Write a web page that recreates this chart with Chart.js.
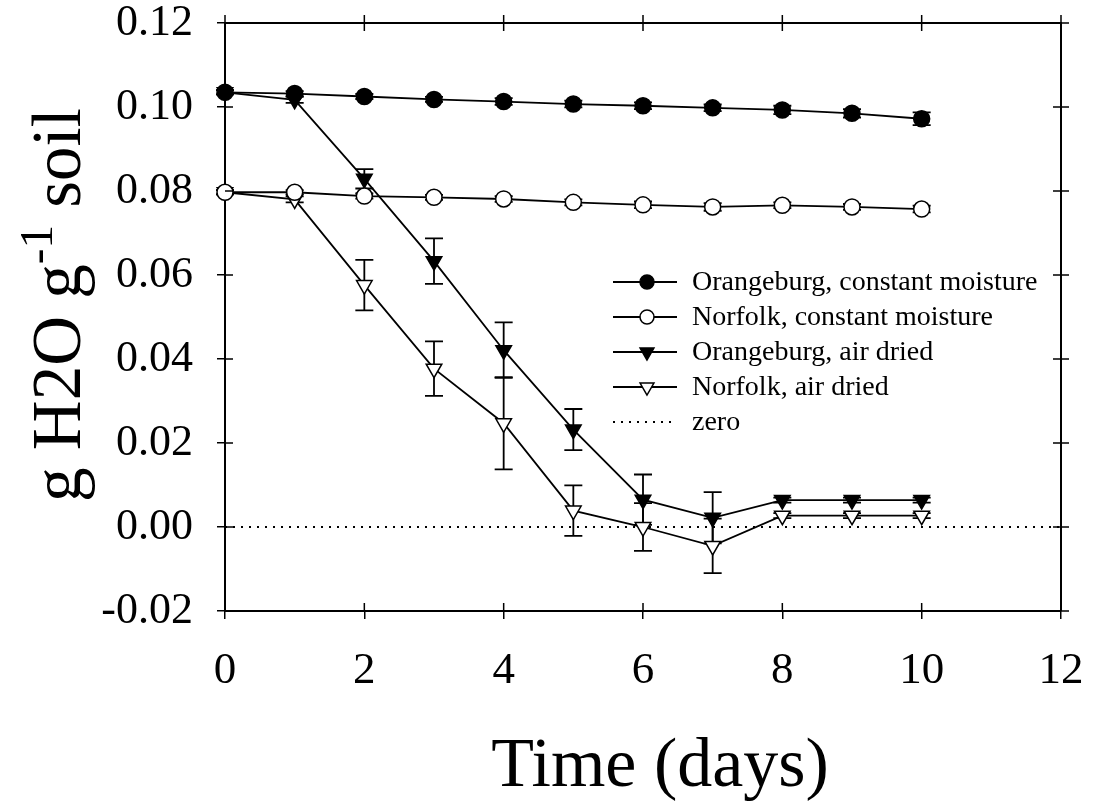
<!DOCTYPE html>
<html>
<head>
<meta charset="utf-8">
<script src="https://cdn.jsdelivr.net/npm/chart.js@4"></script>
<style>
  body { margin: 0; background: #fff; }
  #wrap { width: 1094px; height: 803px; }
</style>
</head>
<body>
<div id="wrap"><canvas id="soilChart" width="1094" height="803"></canvas></div>
<script>
// data
const days = [0, 1, 2, 3, 4, 5, 6, 7, 8, 9, 10];
const orangeConst = [0.1035, 0.1032, 0.1025, 0.1018, 0.1013, 0.1007, 0.1003, 0.0998, 0.0993, 0.0985, 0.0972];
const orangeConstErr = [0.0005, 0.0006, 0.0006, 0.0006, 0.0008, 0.0008, 0.0008, 0.0008, 0.0010, 0.0010, 0.0015];
const norfolkConst = [0.0797, 0.0797, 0.0788, 0.0785, 0.0781, 0.0773, 0.0767, 0.0762, 0.0766, 0.0762, 0.0757];
const norfolkConstErr = [0.0005, 0.0005, 0.0006, 0.0006, 0.0007, 0.0007, 0.0008, 0.0009, 0.0007, 0.0007, 0.0008];
const orangeAir = [0.1035, 0.1017, 0.0829, 0.0633, 0.0421, 0.0232, 0.0065, 0.0022, 0.0064, 0.0064, 0.0064];
const orangeAirErr = [0.0005, 0.0007, 0.0023, 0.0054, 0.0066, 0.0049, 0.0060, 0.0061, 0.0006, 0.0006, 0.0006];
const norfolkAir = [0.0797, 0.0780, 0.0576, 0.0377, 0.0247, 0.0039, 0.0000, -0.0045, 0.0027, 0.0027, 0.0027];
const norfolkAirErr = [0.0005, 0.0007, 0.0060, 0.0065, 0.0110, 0.0060, 0.0057, 0.0065, 0.0006, 0.0006, 0.0006];
const zeroX = [0, 12];
const zeroY = [0, 0];
const seriesNames = ['Orangeburg, constant moisture', 'Norfolk, constant moisture',
                     'Orangeburg, air dried', 'Norfolk, air dried', 'zero'];

const serif = "'Liberation Serif', 'Times New Roman', serif";

function pts(xs, ys) {
    return xs.map((x, i) => ({ x: x, y: ys[i] }));
}

function series(label, values, errs, style, fill) {
    return {
        label: label,
        data: pts(days, values),
        errors: errs,
        borderColor: '#000',
        borderWidth: 1.8,
        pointStyle: style,
        pointRotation: style === 'triangle' ? 180 : 0,
        pointRadius: style === 'triangle' ? 9 : 8,
        pointBackgroundColor: fill,
        pointBorderColor: '#000',
        pointBorderWidth: 1.5,
        tension: 0,
        clip: false
    };
}

// error bars, drawn under the markers
const errorBars = {
    id: 'errorBars',
    beforeDatasetsDraw(chart) {
        const { ctx, scales: { x, y } } = chart;
        ctx.save();
        ctx.strokeStyle = '#000';
        ctx.lineWidth = 1.8;
        chart.data.datasets.forEach(ds => {
            if (!ds.errors) return;
            ds.data.forEach((p, i) => {
                const e = ds.errors[i];
                const px = x.getPixelForValue(p.x);
                const top = y.getPixelForValue(p.y + e);
                const bot = y.getPixelForValue(p.y - e);
                ctx.beginPath();
                ctx.moveTo(px, top); ctx.lineTo(px, bot);
                ctx.moveTo(px - 9, top); ctx.lineTo(px + 9, top);
                ctx.moveTo(px - 9, bot); ctx.lineTo(px + 9, bot);
                ctx.stroke();
            });
        });
        ctx.restore();
    }
};

// box frame, ticks crossing every side, legend and axis titles
const frame = {
    id: 'frame',
    afterDraw(chart) {
        const { ctx, chartArea: a, scales: { x, y } } = chart;
        ctx.save();
        ctx.strokeStyle = '#000';
        ctx.lineWidth = 2;
        ctx.beginPath();
        ctx.moveTo(a.left, a.top); ctx.lineTo(a.right, a.top); ctx.lineTo(a.right, a.bottom);
        ctx.stroke();
        ctx.lineWidth = 1.5;
        ctx.beginPath();
        x.ticks.forEach(t => {
            const px = x.getPixelForValue(t.value);
            ctx.moveTo(px, a.bottom); ctx.lineTo(px, a.bottom - 8);
            ctx.moveTo(px, a.top - 8); ctx.lineTo(px, a.top + 8);
        });
        y.ticks.forEach(t => {
            const py = y.getPixelForValue(t.value);
            ctx.moveTo(a.left, py); ctx.lineTo(a.left + 8, py);
            ctx.moveTo(a.right - 8, py); ctx.lineTo(a.right + 8, py);
        });
        ctx.stroke();

        // legend
        const lx = 613, tx = 692;
        let ly = 282;
        ctx.font = '28px ' + serif;
        ctx.textBaseline = 'middle';
        ctx.fillStyle = '#000';
        chart.data.datasets.forEach(ds => {
            ctx.beginPath();
            ctx.lineWidth = ds.borderWidth;
            ctx.setLineDash(ds.borderDash || []);
            ctx.moveTo(lx, ly); ctx.lineTo(lx + 64, ly);
            ctx.stroke();
            ctx.setLineDash([]);
            if (ds.pointRadius > 0) {
                ctx.fillStyle = ds.pointBackgroundColor;
                ctx.lineWidth = ds.pointBorderWidth;
                Chart.helpers.drawPoint(ctx, {
                    pointStyle: ds.pointStyle, rotation: ds.pointRotation,
                    radius: ds.pointRadius - 1, borderWidth: ds.pointBorderWidth
                }, lx + 34, ly);
            }
            ctx.fillStyle = '#000';
            ctx.fillText(ds.label, tx, ly + 1);
            ly += 35;
        });

        // x title
        ctx.font = '70px ' + serif;
        ctx.textAlign = 'center';
        ctx.textBaseline = 'alphabetic';
        ctx.fillText('Time (days)', 660, 786);

        // y title with superscript
        const big = '69px ' + serif, small = '47px ' + serif;
        ctx.font = big;
        const p1 = 'g H2O g', p3 = ' soil';
        const w1 = ctx.measureText(p1).width, w3 = ctx.measureText(p3).width;
        ctx.font = small;
        const w2 = ctx.measureText('-1').width;
        const total = w1 + w2 + w3;
        ctx.translate(80, (a.top + a.bottom) / 2 - 12);
        ctx.rotate(-Math.PI / 2);
        ctx.textAlign = 'left';
        let cx = -total / 2;
        ctx.font = big; ctx.fillText(p1, cx, 0); cx += w1;
        ctx.font = small; ctx.fillText('-1', cx, -28); cx += w2;
        ctx.font = big; ctx.fillText(p3, cx, 0);
        ctx.restore();
    }
};

const datasets = [
    series(seriesNames[0], orangeConst, orangeConstErr, 'circle', '#000'),
    series(seriesNames[1], norfolkConst, norfolkConstErr, 'circle', '#fff'),
    series(seriesNames[2], orangeAir, orangeAirErr, 'triangle', '#000'),
    series(seriesNames[3], norfolkAir, norfolkAirErr, 'triangle', '#fff'),
    {
        label: seriesNames[4],
        data: pts(zeroX, zeroY),
        borderColor: '#000',
        borderWidth: 1.8,
        borderDash: [2, 6],
        pointRadius: 0
    }
];

function noPad(s) {
    s.paddingLeft = 0; s.paddingRight = 0; s.paddingTop = 0; s.paddingBottom = 0;
}

new Chart(document.getElementById('soilChart').getContext('2d'), {
    type: 'line',
    data: { datasets: datasets },
    options: {
        responsive: false,
        animation: false,
        layout: { padding: { left: 0, right: 33, top: 23, bottom: 0 } },
        plugins: { legend: { display: false }, tooltip: { enabled: false } },
        scales: {
            x: {
                type: 'linear', min: 0, max: 12,
                afterFit: s => { s.height = 192; noPad(s); },
                border: { display: true, color: '#000', width: 2 },
                grid: { drawOnChartArea: false, drawTicks: true, tickLength: 8, color: '#000', lineWidth: 1.5 },
                ticks: { stepSize: 2, color: '#000', padding: 30, maxRotation: 0,
                         font: { family: serif, size: 45, lineHeight: 1 } }
            },
            y: {
                min: -0.02, max: 0.12,
                afterFit: s => { s.width = 225; noPad(s); },
                border: { display: true, color: '#000', width: 2 },
                grid: { drawOnChartArea: false, drawTicks: true, tickLength: 8, color: '#000', lineWidth: 1.5 },
                ticks: { stepSize: 0.02, color: '#000', padding: 24,
                         font: { family: serif, size: 44, lineHeight: 1 },
                         callback: v => (Math.abs(v) < 1e-9 ? 0 : v).toFixed(2) }
            }
        }
    },
    plugins: [errorBars, frame]
});
</script>
</body>
</html>
